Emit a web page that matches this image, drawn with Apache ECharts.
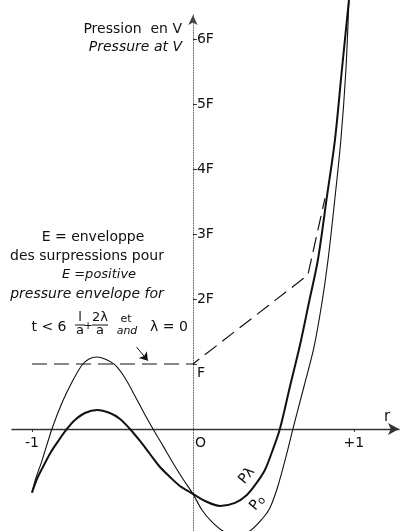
<!DOCTYPE html>
<html>
<head>
<meta charset="utf-8">
<script src="https://cdn.jsdelivr.net/npm/echarts@6/dist/echarts.min.js"></script>
<style>
  html, body { margin: 0; padding: 0; background: #fff; }
  #chart { width: 404px; height: 531px; }
</style>
</head>
<body>
<div id="chart"></div>
<script>
// Pressure curves along r (in units of F)
const poR = [-1.0, -0.975, -0.938, -0.876, -0.814, -0.752, -0.689, -0.646, -0.596, -0.547, -0.484, -0.422, -0.36, -0.304, -0.248, -0.186, -0.124, -0.062, 0, 0.056, 0.118, 0.186, 0.267, 0.354, 0.435, 0.478, 0.528, 0.584, 0.621, 0.689, 0.752, 0.801, 0.839, 0.882, 0.919, 0.95, 0.969];
const poV = [-0.98, -0.75, -0.49, 0, 0.4, 0.72, 0.985, 1.077, 1.108, 1.077, 0.985, 0.785, 0.508, 0.246, 0, -0.26, -0.523, -0.77, -1.0, -1.246, -1.43, -1.569, -1.638, -1.569, -1.37, -1.215, -0.877, -0.369, 0, 0.646, 1.26, 1.938, 2.6, 3.55, 4.45, 5.52, 6.6];

const plR = [-1.0, -0.969, -0.932, -0.882, -0.832, -0.783, -0.733, -0.671, -0.596, -0.516, -0.453, -0.391, -0.329, -0.267, -0.205, -0.143, -0.081, 0, 0.075, 0.168, 0.261, 0.335, 0.391, 0.447, 0.491, 0.54, 0.602, 0.665, 0.72, 0.776, 0.832, 0.882, 0.925, 0.969];
const plV = [-0.98, -0.77, -0.585, -0.354, -0.169, 0, 0.138, 0.246, 0.292, 0.246, 0.154, 0, -0.185, -0.385, -0.585, -0.738, -0.877, -1.0, -1.108, -1.185, -1.138, -1.015, -0.846, -0.631, -0.354, 0, 0.646, 1.292, 1.938, 2.6, 3.57, 4.446, 5.52, 6.6];

// Positive pressure envelope E
const envR = [-1, 0, 0.714, 0.82];
const envV = [1, 1, 2.37, 3.55];

// Pointer from the "and" note to the envelope
const noteArrow = [[-0.35, 1.26], [-0.28, 1.05]];

// Axis ticks and labels
const yTicks = [1, 2, 3, 4, 5, 6];
const yTickLabels = ['F', '2F', '3F', '4F', '5F', '6F'];
const xTicks = [-1, 0, 1];
const xTickLabels = ['-1', 'O', '+1'];

const FONT = 'DejaVu Sans';
const INK = '#111';

// Axis ranges and plot frame
const X_MIN = -1.124, X_MAX = 1.28;
const Y_MIN = -1.57, Y_MAX = 6.37;
const GRID = { left: 12, right: 5, top: 15, bottom: 0 };
const W = 404, H = 531;
// distance of the zero lines from the frame edges, so the axes cross at the origin
const xAxisLift = (H - GRID.top - GRID.bottom) * (0 - Y_MIN) / (Y_MAX - Y_MIN);
const yAxisShift = (W - GRID.left - GRID.right) * (0 - X_MIN) / (X_MAX - X_MIN);

const zip = (a, b) => a.map((v, i) => [v, b[i]]);

function withLabel(points, index, label) {
  return points.map((p, i) => i === index ? { value: p, label: label } : p);
}

// curve names written along the right-hand branches
const poData = withLabel(zip(poR, poV), poR.indexOf(0.435), {
  show: true, position: 'inside', rotate: 50, offset: [8, -14],
  formatter: 'P{s|o}', color: INK, fontFamily: FONT, fontSize: 14,
  rich: { s: { fontSize: 11, fontFamily: FONT, color: INK, padding: [4, 0, 0, 0] } }
});
const plData = withLabel(zip(plR, plV), plR.indexOf(0.447), {
  show: true, position: 'inside', rotate: 50, offset: [-16, -10],
  formatter: 'Pλ', color: INK, fontFamily: FONT, fontSize: 14
});

const chart = echarts.init(document.getElementById('chart'), null, { renderer: 'canvas' });

const txt = (text, x, y, font, align) => ({
  type: 'text', x: x, y: y, silent: true,
  style: {
    text: text, fill: INK, font: font || ('14px "' + FONT + '"'),
    textAlign: align || 'center', textVerticalAlign: 'middle'
  }
});
const f = (size, style) => (style ? style + ' ' : '') + size + 'px "' + FONT + '"';
const bar = (x1, x2, y) => ({
  type: 'line', silent: true,
  shape: { x1: x1, y1: y, x2: x2, y2: y },
  style: { stroke: INK, lineWidth: 1 }
});

chart.setOption({
  animation: false,
  backgroundColor: '#fff',
  grid: Object.assign({ containLabel: false, outerBoundsMode: 'none' }, GRID),
  xAxis: {
    type: 'value', min: X_MIN, max: X_MAX, position: 'bottom', offset: -xAxisLift,
    splitLine: { show: false },
    name: 'r', nameLocation: 'end', nameGap: -15, nameMoveOverlap: false,
    nameTextStyle: { color: INK, fontFamily: FONT, fontSize: 15, verticalAlign: 'bottom', padding: [0, 0, 4, 0] },
    axisLine: {
      onZero: false, symbol: ['none', 'arrow'], symbolSize: [9, 11],
      lineStyle: { color: '#333', width: 1.4, type: [3, 1] }
    },
    axisTick: { show: true, customValues: [-1, 1], length: 3, inside: false, lineStyle: { color: '#333' } },
    axisLabel: {
      customValues: xTicks, margin: 7, color: INK, fontFamily: FONT, fontSize: 14, lineHeight: 14,
      formatter: (v) => {
        const s = xTickLabels[xTicks.indexOf(v)];
        return v === 0 ? '{o|' + s + '}' : s;
      },
      rich: { o: { padding: [0, 0, 0, 15], fontFamily: FONT, fontSize: 14, color: INK } }
    }
  },
  yAxis: {
    type: 'value', min: Y_MIN, max: Y_MAX, position: 'left', offset: -yAxisShift,
    splitLine: { show: false },
    axisLine: {
      onZero: false, symbol: ['none', 'arrow'], symbolSize: [7, 10],
      lineStyle: { color: '#444', width: 0.8, type: [1, 1.5] }
    },
    axisTick: { show: true, customValues: yTicks, length: 4, inside: true, lineStyle: { color: '#333' } },
    axisLabel: {
      customValues: yTicks, inside: true, margin: 4, color: INK, fontFamily: FONT, fontSize: 14, lineHeight: 18,
      formatter: (v) => {
        const s = yTickLabels[yTicks.indexOf(v)];
        return v === 1 ? '\n' + s : s;
      }
    }
  },
  series: [
    {
      name: 'Po', type: 'line', data: poData, smooth: 0.3, clip: false,
      symbol: 'circle', symbolSize: 0, showSymbol: true,
      lineStyle: { color: INK, width: 1.1 }, itemStyle: { color: INK },
      label: { show: false }
    },
    {
      name: 'Pλ', type: 'line', data: plData, smooth: 0.3, clip: false,
      symbol: 'circle', symbolSize: 0, showSymbol: true,
      lineStyle: { color: INK, width: 2 }, itemStyle: { color: INK },
      label: { show: false }
    },
    {
      name: 'E', type: 'line', data: zip(envR, envV), smooth: false, clip: false,
      showSymbol: false,
      lineStyle: { color: INK, width: 1.2, type: [15, 7] },
      markLine: {
        silent: true, symbol: ['none', 'arrow'], symbolSize: 8,
        label: { show: false },
        lineStyle: { color: INK, width: 1, type: 'solid' },
        data: [[{ coord: noteArrow[0] }, { coord: noteArrow[1] }]]
      }
    }
  ],
  graphic: [
    txt('Pression  en V', 182, 29, f(14), 'right'),
    txt('Pressure at V', 182, 47, f(14, 'italic'), 'right'),
    txt('E = enveloppe', 93, 237, f(14)),
    txt('des surpressions pour', 87, 256, f(14)),
    txt('E =positive', 99, 275, f(13, 'italic')),
    txt('pressure envelope for', 87, 294, f(14, 'italic')),
    txt('t < 6', 49, 327, f(14)),
    txt('l', 80, 318, f(13)),
    bar(75, 85, 325),
    txt('a', 80, 331, f(13)),
    txt('+', 88, 326, f(11)),
    txt('2λ', 100, 318, f(13)),
    bar(92, 108, 325),
    txt('a', 100, 331, f(13)),
    txt('et', 126, 319, f(11)),
    txt('and', 127, 331, f(11, 'italic')),
    txt('λ = 0', 169, 327, f(14))
  ]
});
</script>
</body>
</html>
